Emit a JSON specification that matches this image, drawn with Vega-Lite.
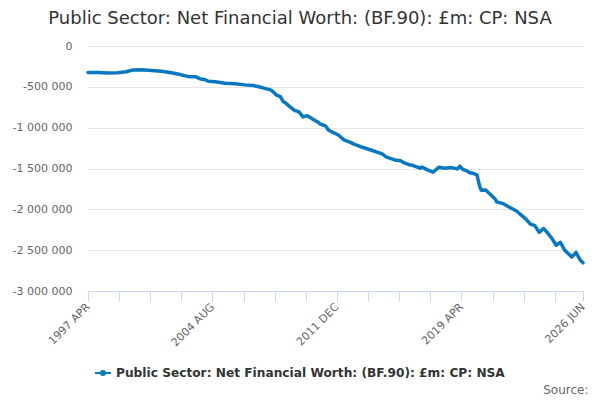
{
  "$schema": "https://vega.github.io/schema/vega-lite/v6.json",
  "autosize": "none",
  "width": 495,
  "height": 245,
  "padding": {"left": 88, "top": 46, "right": 17, "bottom": 109},
  "background": "white",
  "config": {
    "font": "DejaVu Sans",
    "view": {"stroke": null},
    "axis": {"labelFont": "DejaVu Sans", "titleFont": "DejaVu Sans"}
  },
  "title": {
    "text": "Public Sector: Net Financial Worth: (BF.90): £m: CP: NSA",
    "anchor": "middle",
    "frame": "group",
    "dx": -35.5,
    "offset": 12,
    "fontSize": 18,
    "fontWeight": "normal",
    "color": "#333333",
    "font": "DejaVu Sans"
  },
  "data": {
    "values": [
      {"date": "1997-04-01", "value": -324000},
      {"date": "1997-11-01", "value": -324000},
      {"date": "1998-06-01", "value": -330000},
      {"date": "1999-01-01", "value": -328000},
      {"date": "1999-07-01", "value": -316000},
      {"date": "1999-12-01", "value": -293000},
      {"date": "2000-06-01", "value": -292000},
      {"date": "2001-01-01", "value": -300000},
      {"date": "2001-08-01", "value": -308000},
      {"date": "2002-03-01", "value": -328000},
      {"date": "2002-09-01", "value": -349000},
      {"date": "2003-01-01", "value": -366000},
      {"date": "2003-04-01", "value": -377000},
      {"date": "2003-08-01", "value": -376000},
      {"date": "2003-11-01", "value": -400000},
      {"date": "2004-03-01", "value": -414000},
      {"date": "2004-05-01", "value": -432000},
      {"date": "2004-10-01", "value": -439000},
      {"date": "2005-05-01", "value": -455000},
      {"date": "2005-12-01", "value": -463000},
      {"date": "2006-07-01", "value": -476000},
      {"date": "2007-01-01", "value": -484000},
      {"date": "2007-07-01", "value": -509000},
      {"date": "2008-01-01", "value": -537000},
      {"date": "2008-03-01", "value": -560000},
      {"date": "2008-05-01", "value": -598000},
      {"date": "2008-08-01", "value": -621000},
      {"date": "2008-10-01", "value": -680000},
      {"date": "2008-12-01", "value": -702000},
      {"date": "2009-02-01", "value": -733000},
      {"date": "2009-04-01", "value": -761000},
      {"date": "2009-06-01", "value": -790000},
      {"date": "2009-09-01", "value": -803000},
      {"date": "2009-12-01", "value": -868000},
      {"date": "2010-03-01", "value": -853000},
      {"date": "2010-06-01", "value": -884000},
      {"date": "2010-07-01", "value": -898000},
      {"date": "2010-11-01", "value": -938000},
      {"date": "2010-12-01", "value": -955000},
      {"date": "2011-04-01", "value": -978000},
      {"date": "2011-06-01", "value": -1029000},
      {"date": "2011-08-01", "value": -1048000},
      {"date": "2012-01-01", "value": -1090000},
      {"date": "2012-05-01", "value": -1150000},
      {"date": "2012-10-01", "value": -1183000},
      {"date": "2012-12-01", "value": -1201000},
      {"date": "2013-06-01", "value": -1240000},
      {"date": "2014-01-01", "value": -1280000},
      {"date": "2014-08-01", "value": -1321000},
      {"date": "2014-11-01", "value": -1360000},
      {"date": "2015-05-01", "value": -1395000},
      {"date": "2015-09-01", "value": -1406000},
      {"date": "2015-12-01", "value": -1435000},
      {"date": "2016-04-01", "value": -1458000},
      {"date": "2016-06-01", "value": -1464000},
      {"date": "2016-11-01", "value": -1497000},
      {"date": "2016-12-01", "value": -1481000},
      {"date": "2017-04-01", "value": -1517000},
      {"date": "2017-08-01", "value": -1545000},
      {"date": "2017-12-01", "value": -1485000},
      {"date": "2018-04-01", "value": -1497000},
      {"date": "2018-09-01", "value": -1489000},
      {"date": "2019-01-01", "value": -1505000},
      {"date": "2019-03-01", "value": -1472000},
      {"date": "2019-05-01", "value": -1511000},
      {"date": "2019-08-01", "value": -1530000},
      {"date": "2019-10-01", "value": -1553000},
      {"date": "2019-12-01", "value": -1558000},
      {"date": "2020-03-01", "value": -1579000},
      {"date": "2020-05-01", "value": -1720000},
      {"date": "2020-06-01", "value": -1765000},
      {"date": "2020-09-01", "value": -1762000},
      {"date": "2020-12-01", "value": -1810000},
      {"date": "2021-04-01", "value": -1877000},
      {"date": "2021-05-01", "value": -1908000},
      {"date": "2021-10-01", "value": -1934000},
      {"date": "2022-01-01", "value": -1965000},
      {"date": "2022-07-01", "value": -2020000},
      {"date": "2023-01-01", "value": -2110000},
      {"date": "2023-05-01", "value": -2182000},
      {"date": "2023-08-01", "value": -2200000},
      {"date": "2023-11-01", "value": -2282000},
      {"date": "2024-02-01", "value": -2235000},
      {"date": "2024-04-01", "value": -2270000},
      {"date": "2024-08-01", "value": -2355000},
      {"date": "2024-11-01", "value": -2440000},
      {"date": "2025-02-01", "value": -2403000},
      {"date": "2025-05-01", "value": -2499000},
      {"date": "2025-10-01", "value": -2585000},
      {"date": "2026-01-01", "value": -2528000},
      {"date": "2026-04-01", "value": -2620000},
      {"date": "2026-06-01", "value": -2655000}
    ]
  },
  "mark": {"type": "line", "strokeWidth": 3.5, "strokeJoin": "round", "strokeCap": "round"},
  "encoding": {
    "x": {
      "field": "date",
      "type": "temporal",
      "scale": {
        "type": "utc",
        "domain": [
          {"year": 1997, "month": 4, "date": 1, "utc": true},
          {"year": 2026, "month": 6, "date": 1, "utc": true}
        ]
      },
      "axis": {
        "title": "Source:",
        "titleAlign": "right",
        "titleAnchor": null,
        "titleX": 500,
        "titleY": 102,
        "titleBaseline": "alphabetic",
        "titleFontSize": 12,
        "titleFontWeight": "normal",
        "titleColor": "#666666",
        "values": [
          {"year": 1997, "month": 4, "date": 1, "utc": true},
          {"year": 1999, "month": 2, "date": 1, "utc": true},
          {"year": 2000, "month": 12, "date": 1, "utc": true},
          {"year": 2002, "month": 10, "date": 1, "utc": true},
          {"year": 2004, "month": 8, "date": 1, "utc": true},
          {"year": 2006, "month": 6, "date": 1, "utc": true},
          {"year": 2008, "month": 4, "date": 1, "utc": true},
          {"year": 2010, "month": 2, "date": 1, "utc": true},
          {"year": 2011, "month": 12, "date": 1, "utc": true},
          {"year": 2013, "month": 10, "date": 1, "utc": true},
          {"year": 2015, "month": 8, "date": 1, "utc": true},
          {"year": 2017, "month": 6, "date": 1, "utc": true},
          {"year": 2019, "month": 4, "date": 1, "utc": true},
          {"year": 2021, "month": 2, "date": 1, "utc": true},
          {"year": 2022, "month": 12, "date": 1, "utc": true},
          {"year": 2024, "month": 10, "date": 1, "utc": true},
          {"year": 2026, "month": 6, "date": 1, "utc": true}
        ],
        "labelExpr": "(((utcyear(datum.value) - 1997) * 12 + utcmonth(datum.value) - 3) % 88 == 0 || ((utcyear(datum.value) - 1997) * 12 + utcmonth(datum.value) - 3) == 350) ? upper(utcFormat(datum.value, '%Y %b')) : ''",
        "labelAngle": -45,
        "labelAlign": "right",
        "labelBaseline": "middle",
        "labelFontSize": 11,
        "labelColor": "#666666",
        "labelPadding": 4,
        "labelOverlap": false,
        "labelBound": false,
        "labelFlush": false,
        "domainColor": "#ccd6eb",
        "domainWidth": 1,
        "tickColor": "#ccd6eb",
        "tickSize": 10,
        "tickWidth": 1,
        "grid": false
      }
    },
    "y": {
      "field": "value",
      "type": "quantitative",
      "scale": {"domain": [-3000000, 0], "nice": false, "zero": false},
      "axis": {
        "title": null,
        "values": [0, -500000, -1000000, -1500000, -2000000, -2500000, -3000000],
        "labelExpr": "replace(replace(replace(format(datum.value, ','), ',', ' '), ',', ' '), '−', '-')",
        "labelFontSize": 11,
        "labelColor": "#666666",
        "labelPadding": 16,
        "domain": false,
        "ticks": false,
        "grid": true,
        "gridColor": "#e6e6e6",
        "gridWidth": 1
      }
    },
    "color": {
      "datum": "Public Sector: Net Financial Worth: (BF.90): £m: CP: NSA",
      "type": "nominal",
      "scale": {"range": ["#0a78c0"]},
      "legend": {
        "title": null,
        "orient": "none",
        "legendX": 6,
        "legendY": 318,
        "symbolType": "M-1,0H1M0.25,0A0.25,0.25,0,1,1,-0.25,0A0.25,0.25,0,1,1,0.25,0",
        "symbolSize": 256,
        "symbolStrokeWidth": 2,
        "symbolFillColor": "#0a78c0",
        "labelFontSize": 12.2,
        "labelFontWeight": "bold",
        "labelColor": "#333333",
        "labelFont": "DejaVu Sans",
        "labelLimit": 600,
        "labelOffset": 4
      }
    }
  }
}
